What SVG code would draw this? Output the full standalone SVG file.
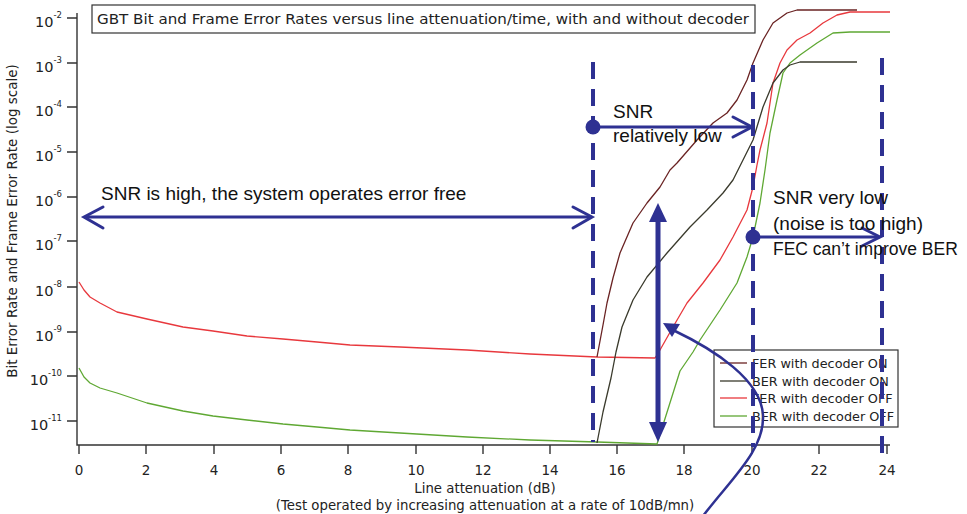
<svg xmlns="http://www.w3.org/2000/svg" width="967" height="514" viewBox="0 0 967 514">
<style>
.ax{stroke:#333;stroke-width:1.4;fill:none}
.pl{font-family:"DejaVu Sans",Verdana,sans-serif;fill:#222}
.yt{font-size:14.5px;text-anchor:end}
.sup{font-size:8.5px}
.xt{font-size:13.5px;text-anchor:middle}
.cv{fill:none;stroke-width:1.3;stroke-linejoin:round}
.fon{stroke:#6a2323}
.bon{stroke:#3a3a2c}
.foff{stroke:#e8383d}
.boff{stroke:#5fa833}
.ann{font-family:"Liberation Sans",Arial,sans-serif;font-size:19px;fill:#111}
.blue{stroke:#2e3192;fill:none}
.dash{stroke:#2e3192;stroke-width:4;stroke-dasharray:17 10;fill:none}
.chev{stroke:#2e3192;stroke-width:3;fill:none;stroke-linecap:round;stroke-linejoin:miter}
</style>
<rect width="967" height="514" fill="#fff"/>

<g id="title">
<rect x="92" y="5" width="663" height="28" fill="#fff" stroke="#333" stroke-width="1.2"/>
<text class="pl" x="97" y="24" font-size="14.5" textLength="652" lengthAdjust="spacingAndGlyphs">GBT Bit and Frame Error Rates versus line attenuation/time, with and without decoder</text>
</g>

<g id="axes">
<path class="ax" d="M77,13 V445 H890"/>
<path class="ax" d="M67,18 H77 M67,63 H77 M67,107 H77 M67,152 H77 M67,197 H77 M67,241 H77 M67,287 H77 M67,332 H77 M67,376 H77 M67,421 H77"/>
<path class="ax" d="M79,445 V454 M146,445 V454 M214,445 V454 M281,445 V454 M348,445 V454 M416,445 V454 M483,445 V454 M550,445 V454 M617,445 V454 M684,445 V454 M752,445 V454 M819,445 V454 M887,445 V454"/>
<g class="pl yt">
<text x="62" y="27">10<tspan class="sup" dy="-9">-2</tspan></text>
<text x="62" y="72">10<tspan class="sup" dy="-9">-3</tspan></text>
<text x="62" y="116">10<tspan class="sup" dy="-9">-4</tspan></text>
<text x="62" y="161">10<tspan class="sup" dy="-9">-5</tspan></text>
<text x="62" y="206">10<tspan class="sup" dy="-9">-6</tspan></text>
<text x="62" y="250">10<tspan class="sup" dy="-9">-7</tspan></text>
<text x="62" y="296">10<tspan class="sup" dy="-9">-8</tspan></text>
<text x="62" y="341">10<tspan class="sup" dy="-9">-9</tspan></text>
<text x="62" y="385">10<tspan class="sup" dy="-9">-10</tspan></text>
<text x="62" y="430">10<tspan class="sup" dy="-9">-11</tspan></text>
</g>
<g class="pl xt">
<text x="79" y="475">0</text>
<text x="146" y="475">2</text>
<text x="214" y="475">4</text>
<text x="281" y="475">6</text>
<text x="348" y="475">8</text>
<text x="416" y="475">10</text>
<text x="483" y="475">12</text>
<text x="550" y="475">14</text>
<text x="617" y="475">16</text>
<text x="684" y="475">18</text>
<text x="752" y="475">20</text>
<text x="819" y="475">22</text>
<text x="887" y="475">24</text>
</g>
<text class="pl" x="485" y="493" font-size="13.3" text-anchor="middle">Line attenuation (dB)</text>
<text class="pl" x="485" y="510" font-size="13.3" text-anchor="middle">(Test operated by increasing attenuation at a rate of 10dB/mn)</text>
<text class="pl" font-size="13.5" text-anchor="middle" transform="translate(17,221) rotate(-90)">Bit Error Rate and Frame Error Rate (log scale)</text>
</g>

<g id="curves">
<polyline class="cv foff" points="79,282 84,290 90,297 100,303 117,312 147,319 183,327 213,331 247,336 283,339 317,342 350,345 400,347 467,350 530,354 597,357 655,358 660,350 673,327 687,303 703,283 720,260 733,237 747,210 753,187 757,165 760,150 767,123 773,83 780,63 787,50 797,40 810,33 823,23 837,15 850,12 890,12"/>
<polyline class="cv boff" points="79,368 84,377 90,383 100,388 117,393 147,403 183,411 213,416 247,420 283,424 317,427 350,430 400,433 467,437 530,440 597,442 657,444 663,425 680,371 693,352 700,340 720,310 737,283 747,257 753,237 760,203 765,170 770,133 777,100 783,73 790,63 800,55 817,43 833,33 850,32 890,32"/>
<polyline class="cv fon" points="597,357 603,325 607,303 613,278 620,253 633,223 647,203 660,187 670,170 677,163 697,140 713,123 727,113 737,100 747,80 753,63 763,40 773,23 787,13 797,10 857,10"/>
<polyline class="cv bon" points="597,443 603,412 611,378 616,352 622,327 633,300 647,277 667,253 690,227 707,210 723,193 733,180 743,160 753,140 763,107 773,83 783,70 790,65 800,62 857,62"/>
</g>

<g id="legend">
<rect x="714" y="350" width="184" height="77" fill="#fff" stroke="#333" stroke-width="1.2"/>
<line class="cv fon" x1="720" y1="363" x2="747" y2="363"/>
<line class="cv bon" x1="720" y1="381" x2="747" y2="381"/>
<line class="cv foff" x1="720" y1="398" x2="747" y2="398"/>
<line class="cv boff" x1="720" y1="416" x2="747" y2="416"/>
<g class="pl" font-size="12.8">
<text x="752" y="368">FER with decoder ON</text>
<text x="752" y="386">BER with decoder ON</text>
<text x="752" y="403">FER with decoder OFF</text>
<text x="752" y="421">BER with decoder OFF</text>
</g>
</g>

<g id="connectors">
<line class="dash" x1="593" y1="62" x2="593" y2="442"/>
<line class="dash" x1="753" y1="65" x2="753" y2="447"/>
<line class="dash" x1="882" y1="58" x2="882" y2="463"/>
<g id="arrow-high">
<line class="blue" stroke-width="3" x1="85" y1="217" x2="591" y2="217"/>
<polyline class="chev" points="103,207 84,217 103,228"/>
<polyline class="chev" points="573,207 592,217 573,228"/>
</g>
<g id="arrow-relow">
<circle cx="593" cy="127" r="7.5" fill="#2e3192"/>
<line class="blue" stroke-width="3" x1="593" y1="127" x2="751" y2="127"/>
<polyline class="chev" points="733,117 752,127 733,137"/>
</g>
<g id="arrow-verylow">
<circle cx="753" cy="237" r="7.5" fill="#2e3192"/>
<line class="blue" stroke-width="3" x1="753" y1="237" x2="879" y2="237"/>
<polyline class="chev" points="862,228 880,237 862,246"/>
</g>
<g id="arrow-vertical">
<line class="blue" stroke-width="5" x1="658" y1="220" x2="658" y2="425"/>
<polygon points="658,203 649,222 667,222" fill="#2e3192"/>
<polygon points="658,442 649,422 667,422" fill="#2e3192"/>
</g>
<g id="arrow-curved">
<path class="blue" stroke-width="2.5" d="M703,516 C730,480 765,450 763,415 C761,380 715,350 673,330"/>
<polygon points="663,323 680,324 672,337" fill="#2e3192"/>
</g>
</g>

<g id="annotations">
<text class="ann" x="101" y="200">SNR is high, the system operates error free</text>
<text class="ann" x="613" y="118">SNR</text>
<text class="ann" x="613" y="142">relatively low</text>
<text class="ann" x="773" y="204">SNR very low</text>
<text class="ann" x="773" y="230">(noise is too high)</text>
<text class="ann" x="773" y="255" style="font-size:17.5px">FEC can’t improve BER</text>
</g>
</svg>
